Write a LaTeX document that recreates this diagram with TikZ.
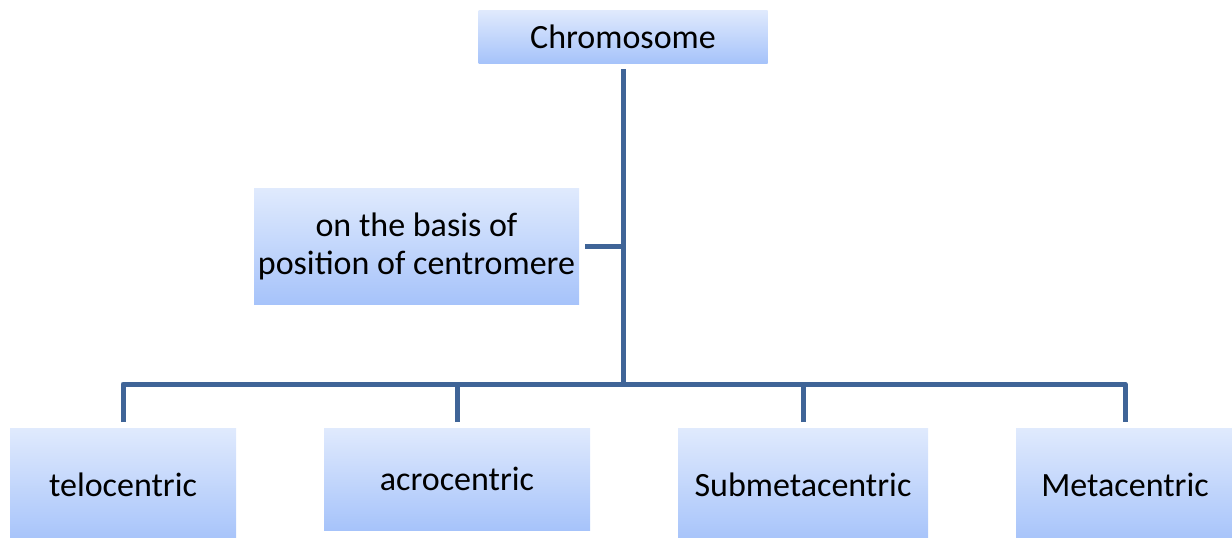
\documentclass[tikz,border=0pt]{standalone}
\usepackage{fontspec}
\setmainfont{Carlito}
\definecolor{linecol}{RGB}{63,100,151}
\definecolor{boxtop}{RGB}{224,234,253}
\definecolor{boxbot}{RGB}{166,195,250}
\begin{document}
\begin{tikzpicture}[x=1pt,y=-1pt,
  box/.style={rectangle, top color=boxtop, bottom color=boxbot, draw=none,
    inner sep=0pt, outer sep=6pt, align=center,
    font=\fontsize{34}{38}\selectfont},
  conn/.style={draw=linecol, line width=5pt, line join=round}]
\useasboundingbox (0,0) rectangle (1232,538);
\clip (0,0) rectangle (1232,538);
\node[box, minimum width=289pt, minimum height=53pt] (chrom) at (623,36.5) {Chromosome};
\node[box, minimum width=325pt, minimum height=116pt] (basis) at (416.5,246) {on the basis of\\position of centromere};
\node[box, minimum width=226pt, minimum height=114pt] (tel) at (123,485) {telocentric};
\node[box, minimum width=266pt, minimum height=102pt] (acro) at (457,479) {acrocentric};
\node[box, minimum width=250pt, minimum height=114pt] (sub) at (803,485) {Submetacentric};
\node[box, minimum width=218pt, minimum height=114pt] (meta) at (1125,485) {Metacentric};
\coordinate (hub) at (623,384);
\draw[conn] (chrom.south) -- (hub);
\draw[conn] (basis.east) -- (basis.east -| hub);
\draw[conn] (tel.north) |- (meta.north |- hub) -- (meta.north);
\draw[conn] (acro.north) -- (acro.north |- hub);
\draw[conn] (sub.north) -- (sub.north |- hub);
\end{tikzpicture}
\end{document}
